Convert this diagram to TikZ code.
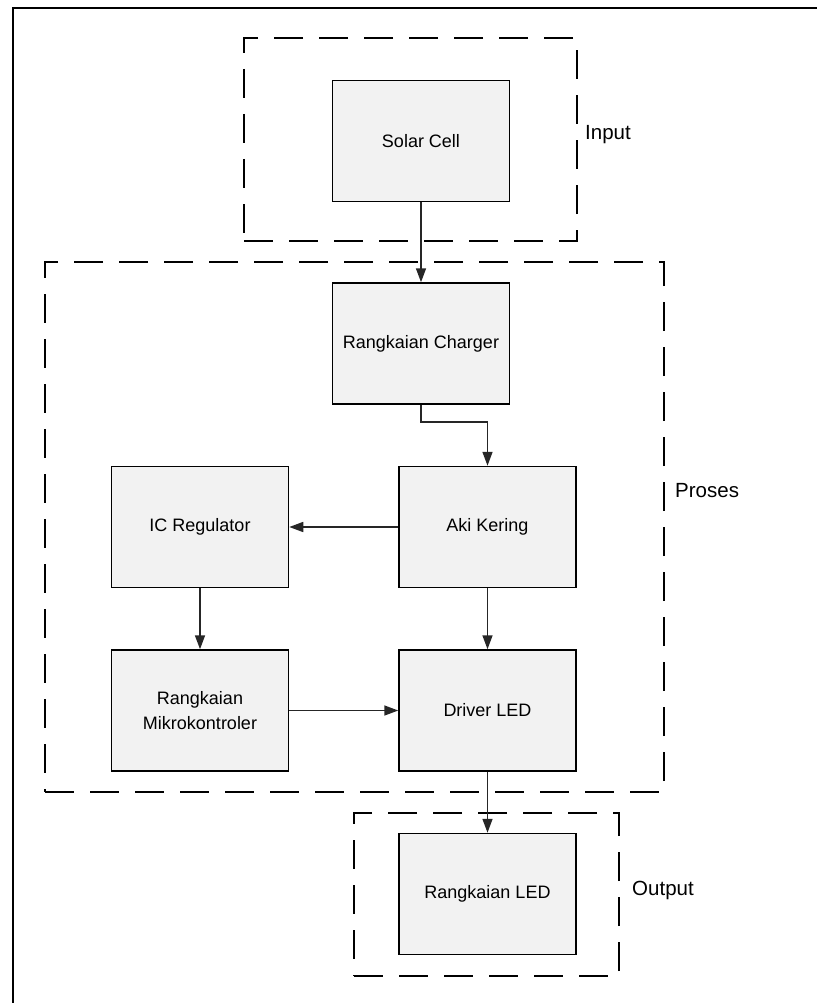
\documentclass[tikz,border=0pt]{standalone}
\usepackage{fontspec}
\setmainfont{Liberation Sans}
\usetikzlibrary{arrows.meta}
\definecolor{boxfill}{HTML}{F2F2F2}
\definecolor{arrowcol}{HTML}{262626}
\tikzset{
  blk/.style={draw=black, fill=boxfill, line width=1.5pt, minimum width=177pt, minimum height=121pt, inner sep=0pt, align=center, font=\fontsize{18}{25}\selectfont},
  grp/.style={draw=black, line width=1.5pt, dash pattern=on 29pt off 16pt, inner sep=0pt},
  lbl/.style={anchor=west, inner sep=0pt, font=\fontsize{20.5}{24}\selectfont},
  conn/.style={draw=arrowcol, line width=1.6pt, -{Triangle[length=14pt,width=10pt]}}
}
\begin{document}
\begin{tikzpicture}[x=1pt,y=-1pt]
\useasboundingbox (0,0) rectangle (817,1003);
\draw[line width=2.5pt] (13,1003) -- (13,8) -- (817,8);
% groups
\node[grp, minimum width=333pt, minimum height=203pt] (ginput) at (410.5,139.5) {};
\node[grp, minimum width=619pt, minimum height=530pt] (gproses) at (354.5,527) {};
\node[grp, minimum width=265pt, minimum height=163pt] (goutput) at (486.5,894.5) {};
% labels
\node[lbl] (linput) at (585,135) {Input};
\node[lbl] (lproses) at (675,491) {Proses};
\node[lbl] (loutput) at (632,890) {Output};
% blocks
\node[blk] (solar) at (421,141) {Solar Cell};
\node[blk] (charger) at (421,343.5) {Rangkaian Charger};
\node[blk] (aki) at (487.5,527) {Aki Kering};
\node[blk] (icreg) at (200,527) {IC Regulator};
\node[blk] (mikro) at (200,710.5) {Rangkaian\\Mikrokontroler};
\node[blk] (driver) at (487.5,710.5) {Driver LED};
\node[blk] (led) at (487.5,894) {Rangkaian LED};
% connectors
\draw[conn] (solar.south) -- (charger.north);
\draw[conn] (charger.south) -- ++(0,17) -| (aki.north);
\draw[conn] (aki.west) -- (icreg.east);
\draw[conn] (icreg.south) -- (mikro.north);
\draw[conn] (aki.south) -- (driver.north);
\draw[conn] (mikro.east) -- (driver.west);
\draw[conn] (driver.south) -- (led.north);
\end{tikzpicture}
\end{document}
